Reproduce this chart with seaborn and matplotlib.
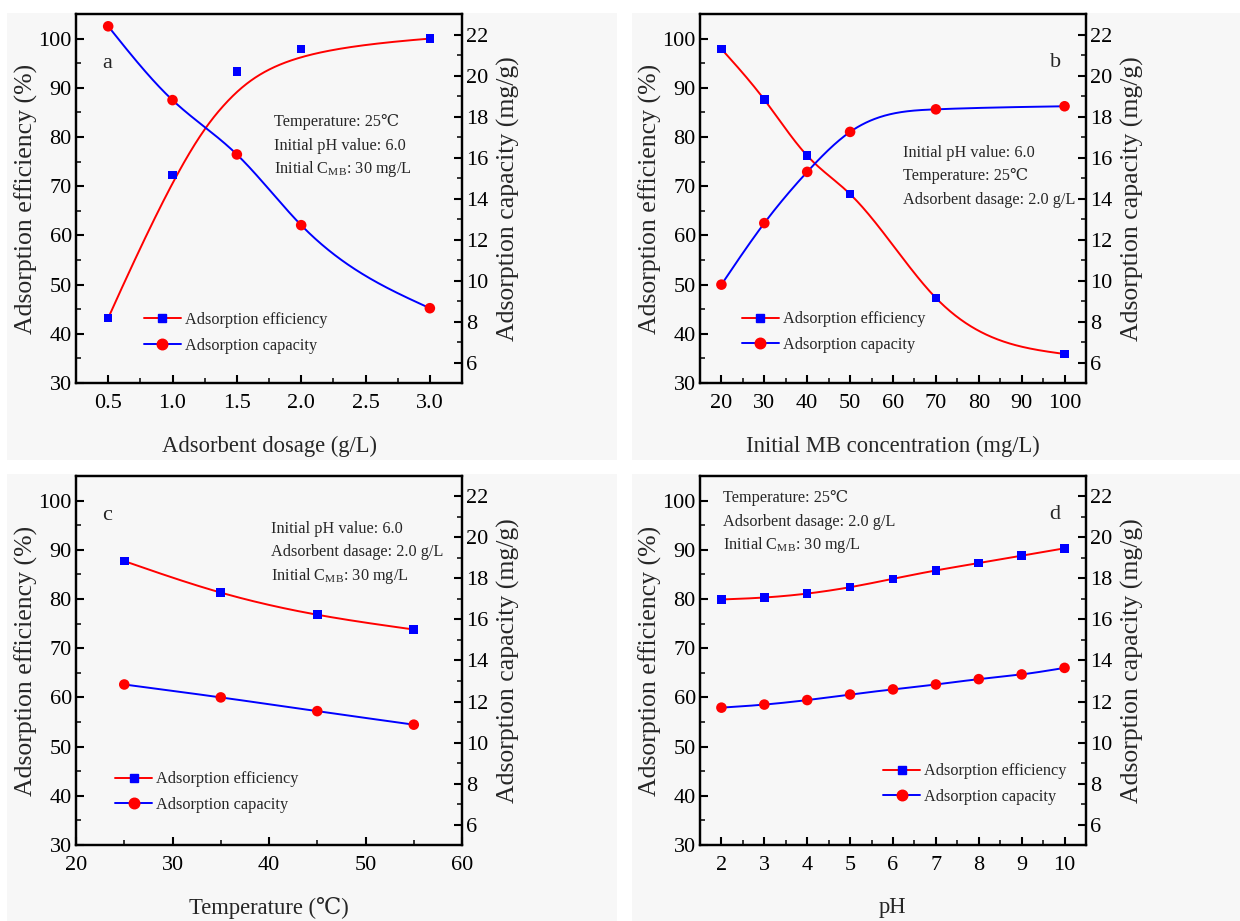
import numpy as np
import pandas as pd
import matplotlib
matplotlib.use("Agg")
import matplotlib.pyplot as plt
import seaborn as sns
from matplotlib.lines import Line2D
from matplotlib.patches import Rectangle
from matplotlib.ticker import MultipleLocator

# ---------------- data ----------------
dose = [0.5, 1.0, 1.5, 2.0, 3.0]
dose_eff = [43.2, 72.3, 93.3, 97.9, 100.0]
dose_cap = [22.4, 18.8, 16.15, 12.7, 8.65]

conc = [20, 30, 40, 50, 70, 100]
conc_eff = [97.9, 87.6, 76.2, 68.4, 47.3, 35.9]
conc_cap = [9.8, 12.8, 15.3, 17.25, 18.35, 18.5]

temp = [25, 35, 45, 55]
temp_eff = [87.7, 81.3, 76.8, 73.8]
temp_cap = [12.83, 12.2, 11.53, 10.87]

ph = [2, 3, 4, 5, 6, 7, 8, 9, 10]
ph_eff = [79.9, 80.3, 81.1, 82.4, 84.1, 85.8, 87.3, 88.8, 90.3]
ph_cap = [11.7, 11.85, 12.07, 12.34, 12.59, 12.83, 13.09, 13.32, 13.64]

legend_labels = ["Adsorption efficiency", "Adsorption capacity"]
ylabel_left = "Adsorption efficiency (%)"
ylabel_right = "Adsorption capacity (mg/g)"

# ---------------- style ----------------
sns.set_theme(style="ticks")
plt.rcParams["font.family"] = ["Liberation Serif", "DejaVu Serif"]
plt.rcParams["mathtext.fontset"] = "stix"
plt.rcParams["axes.linewidth"] = 1.6

PANEL_BG = "#f7f7f7"
SMALL = 11.7


def bspline(x, y, n=400, k=3):
    """Clamped B-spline smoothing curve (data points used as control points)."""
    x = np.asarray(x, float)
    y = np.asarray(y, float)
    P = np.column_stack([x, y])
    m = len(P)
    k = min(k, m - 1)
    u = (x - x[0]) / (x[-1] - x[0])
    inner = [np.mean(u[j:j + k]) for j in range(1, m - k)]
    knots = np.concatenate([np.zeros(k + 1), inner, np.ones(k + 1)])
    t = np.linspace(0, 1, n)
    t[-1] = 1 - 1e-12
    N = np.zeros((n, len(knots) - 1))
    for i in range(len(knots) - 1):
        N[:, i] = ((t >= knots[i]) & (t < knots[i + 1])).astype(float)
    for d in range(1, k + 1):
        Nn = np.zeros((n, len(knots) - 1 - d))
        for i in range(len(knots) - 1 - d):
            a = np.zeros(n)
            den1 = knots[i + d] - knots[i]
            den2 = knots[i + d + 1] - knots[i + 1]
            if den1 > 0:
                a = a + (t - knots[i]) / den1 * N[:, i]
            if den2 > 0:
                a = a + (knots[i + d + 1] - t) / den2 * N[:, i + 1]
            Nn[:, i] = a
        N = Nn
    C = N @ P
    return C[:, 0], C[:, 1]


def natural_spline(x, y, n=400):
    """Natural cubic spline passing through the data points."""
    x = np.asarray(x, float)
    y = np.asarray(y, float)
    m = len(x)
    h = np.diff(x)
    A = np.zeros((m, m))
    b = np.zeros(m)
    A[0, 0] = 1
    A[-1, -1] = 1
    for i in range(1, m - 1):
        A[i, i - 1] = h[i - 1]
        A[i, i] = 2 * (h[i - 1] + h[i])
        A[i, i + 1] = h[i]
        b[i] = 6 * ((y[i + 1] - y[i]) / h[i] - (y[i] - y[i - 1]) / h[i - 1])
    M = np.linalg.solve(A, b)
    xs = np.linspace(x[0], x[-1], n)
    idx = np.clip(np.searchsorted(x, xs) - 1, 0, m - 2)
    x0, x1 = x[idx], x[idx + 1]
    hh = h[idx]
    ys = (M[idx] * (x1 - xs) ** 3 / (6 * hh) + M[idx + 1] * (xs - x0) ** 3 / (6 * hh)
          + (y[idx] / hh - M[idx] * hh / 6) * (x1 - xs)
          + (y[idx + 1] / hh - M[idx + 1] * hh / 6) * (xs - x0))
    return xs, ys


panels = [
    dict(x=dose, eff=dose_eff, cap=dose_cap, xlabel="Adsorbent dosage (g/L)",
         curve_eff=bspline, curve_cap=natural_spline,
         xlim=(0.25, 3.25), xmajor=0.5, xminor=0.25, xfmt="{:.1f}",
         letter="a", letter_pos=(0.081, 0.866),
         notes=["Temperature: 25\u2103", "Initial pH value: 6.0",
                r"Initial C$_\mathregular{MB}$: 30 mg/L"],
         notes_pos=(0.513, 0.706), leg_pos=(0.175, 0.174),
         rect=(0.0613, 0.5841), bg=(7, 13, 617, 460)),
    dict(x=conc, eff=conc_eff, cap=conc_cap, xlabel="Initial MB concentration (mg/L)",
         curve_eff=natural_spline, curve_cap=natural_spline,
         xlim=(15, 105), xmajor=10, xminor=5, xfmt="{:.0f}",
         letter="b", letter_pos=(0.92, 0.869),
         notes=["Initial pH value: 6.0", "Temperature: 25\u2103",
                "Adsorbent dasage: 2.0 g/L"],
         notes_pos=(0.527, 0.624), leg_pos=(0.108, 0.176),
         rect=(0.5645, 0.5841), bg=(632, 13, 1240, 460)),
    dict(x=temp, eff=temp_eff, cap=temp_cap, xlabel="Temperature (\u2103)",
         curve_eff=natural_spline, curve_cap=natural_spline,
         xlim=(20, 60), xmajor=10, xminor=5, xfmt="{:.0f}",
         letter="c", letter_pos=(0.081, 0.894),
         notes=["Initial pH value: 6.0", "Adsorbent dasage: 2.0 g/L",
                r"Initial C$_\mathregular{MB}$: 30 mg/L"],
         notes_pos=(0.506, 0.857), leg_pos=(0.101, 0.182),
         rect=(0.0613, 0.0825), bg=(7, 474, 617, 921)),
    dict(x=ph, eff=ph_eff, cap=ph_cap, xlabel="pH",
         curve_eff=natural_spline, curve_cap=natural_spline,
         xlim=(1.5, 10.5), xmajor=1, xminor=0.5, xfmt="{:.0f}",
         letter="d", letter_pos=(0.92, 0.896),
         notes=["Temperature: 25\u2103", "Adsorbent dasage: 2.0 g/L",
                r"Initial C$_\mathregular{MB}$: 30 mg/L"],
         notes_pos=(0.06, 0.939), leg_pos=(0.474, 0.203),
         rect=(0.5645, 0.0825), bg=(632, 474, 1240, 921)),
]

W, H = 1240, 921
fig = plt.figure(figsize=(W / 100, H / 100), dpi=100)
fig.patch.set_facecolor("white")

for p in panels:
    x0, y0, x1, y1 = p["bg"]
    fig.add_artist(Rectangle((x0 / W, 1 - y1 / H), (x1 - x0) / W, (y1 - y0) / H,
                             transform=fig.transFigure, facecolor=PANEL_BG,
                             edgecolor="none", zorder=-10))

    ax = fig.add_axes([p["rect"][0], p["rect"][1], 0.3113, 0.4007])
    ax.set_facecolor(PANEL_BG)
    ax2 = ax.twinx()

    # smooth curves
    sx, sy = p["curve_eff"](p["x"], p["eff"])
    sns.lineplot(x=sx, y=sy, ax=ax, color="red", lw=1.4, sort=False, estimator=None, zorder=3)
    cx, cy = p["curve_cap"](p["x"], p["cap"])
    sns.lineplot(x=cx, y=cy, ax=ax2, color="blue", lw=1.4, sort=False, estimator=None, zorder=3)
    # markers
    sns.scatterplot(x=p["x"], y=p["eff"], ax=ax, marker="s", color="blue", s=38,
                    edgecolor="none", linewidth=0, zorder=5)
    sns.scatterplot(x=p["x"], y=p["cap"], ax=ax2, marker="o", color="red", s=58,
                    edgecolor="none", linewidth=0, zorder=5)

    ax.set_xlim(*p["xlim"])
    ax.set_ylim(30, 105)
    ax2.set_ylim(5, 23)
    ax.xaxis.set_minor_locator(MultipleLocator(p["xminor"]))
    ax.yaxis.set_minor_locator(MultipleLocator(5))
    ax2.yaxis.set_minor_locator(MultipleLocator(1))
    start = np.ceil(p["xlim"][0] / p["xmajor"] - 1e-9) * p["xmajor"]
    xt = np.arange(start, p["xlim"][1] + 1e-9, p["xmajor"])
    ax.set_xticks(xt)
    ax.set_xticklabels([p["xfmt"].format(v) for v in xt])
    ax2.set_yticks(np.arange(6, 23, 2))
    ax2.set_yticklabels([f"{v:d}" for v in range(6, 23, 2)])
    ax.set_yticks(np.arange(30, 101, 10))
    ax.set_yticklabels([f"{v:d}" for v in range(30, 101, 10)])

    for a in (ax, ax2):
        a.tick_params(which="major", direction="in", length=6, width=1.5,
                      labelsize=16, colors="black", pad=4)
        a.tick_params(which="minor", direction="in", length=3.5, width=1.3)
        for s in a.spines.values():
            s.set_linewidth(1.6)
            s.set_color("black")
    ax.tick_params(axis="x", which="both", top=False, pad=8)
    ax.tick_params(axis="y", which="both", right=False, pad=3)
    ax2.tick_params(axis="y", pad=3)

    ax.set_xlabel(p["xlabel"], fontsize=16.3, labelpad=16)
    ax.set_ylabel(ylabel_left, fontsize=18.5, labelpad=0.5)
    ax2.set_ylabel(ylabel_right, fontsize=18.5, labelpad=6)

    ax2.text(*p["letter_pos"], p["letter"], transform=ax.transAxes, fontsize=16,
             ha="center", va="center")
    nx, ny = p["notes_pos"]
    for i, line in enumerate(p["notes"]):
        ax2.text(nx, ny - i * 0.0635, line, transform=ax.transAxes, fontsize=SMALL,
                 ha="left", va="center")

    handles = [
        Line2D([], [], color="red", lw=1.4, marker="s", markerfacecolor="blue",
               markeredgecolor="blue", markersize=6.2),
        Line2D([], [], color="blue", lw=1.4, marker="o", markerfacecolor="red",
               markeredgecolor="red", markersize=7.6),
    ]
    lx, ly = p["leg_pos"]
    ax2.legend(handles, legend_labels, loc="upper left", bbox_to_anchor=(lx, ly + 0.018),
               bbox_transform=ax.transAxes, frameon=False, fontsize=SMALL,
               borderpad=0, borderaxespad=0, handlelength=2.3, handletextpad=0.25,
               labelspacing=0.58)

fig.savefig("out.png", dpi=100, facecolor="white")
